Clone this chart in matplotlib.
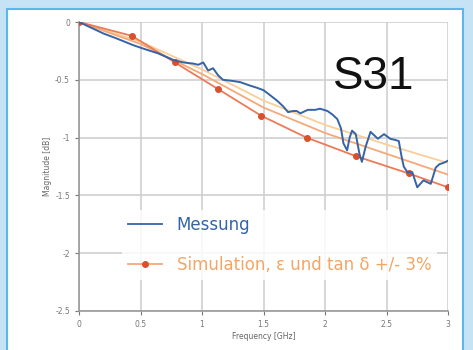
import matplotlib
matplotlib.use("Agg")
import matplotlib.pyplot as plt
from matplotlib.patches import Rectangle
from matplotlib.lines import Line2D

# Measurement (Messung)
meas_f = [0, 0.1, 0.2, 0.3, 0.44, 0.55, 0.64, 0.77, 0.85, 0.93, 0.97, 1.01, 1.05, 1.09, 1.13, 1.17,
          1.25, 1.31, 1.39, 1.45, 1.5, 1.55, 1.61, 1.66, 1.7, 1.74, 1.77, 1.8, 1.86, 1.92, 1.96,
          2.02, 2.06, 2.1, 2.13, 2.15, 2.18, 2.2, 2.22, 2.25, 2.28, 2.3, 2.33, 2.37, 2.4, 2.43,
          2.48, 2.53, 2.57, 2.6, 2.62, 2.64, 2.67, 2.71, 2.75, 2.8, 2.86, 2.9, 2.93, 2.96, 3.0]
meas_db = [0, -0.05, -0.1, -0.14, -0.2, -0.24, -0.27, -0.33, -0.35, -0.36, -0.37, -0.35, -0.42, -0.40, -0.46, -0.5,
           -0.51, -0.52, -0.55, -0.57, -0.59, -0.63, -0.68, -0.73, -0.78, -0.77, -0.77, -0.79, -0.76, -0.76, -0.75,
           -0.77, -0.8, -0.84, -0.92, -1.05, -1.11, -1.0, -0.94, -0.97, -1.14, -1.21, -1.08, -0.95, -0.98, -1.01,
           -0.97, -1.01, -1.02, -1.03, -1.15, -1.25, -1.3, -1.3, -1.43, -1.37, -1.4, -1.26, -1.23, -1.22, -1.2]

# Simulation (nominal with markers) and +/- 3% variants
sim_f = [0, 0.43, 0.78, 1.13, 1.48, 1.85, 2.25, 2.68, 3.0]
sim_nom = [0, -0.12, -0.35, -0.58, -0.81, -1.0, -1.16, -1.31, -1.43]
sim_var_f = [0, 0.5, 1.0, 1.5, 2.0, 2.5, 3.0]
sim_mid = [0, -0.19, -0.45, -0.74, -0.96, -1.14, -1.32]
sim_hi = [0, -0.17, -0.41, -0.68, -0.89, -1.06, -1.22]

x_ticks = [0, 0.5, 1, 1.5, 2, 2.5, 3]
x_labels = ["0", "0.5", "1", "1.5", "2", "2.5", "3"]
y_ticks = [0, -0.5, -1, -1.5, -2, -2.5]
y_labels = ["0", "-0.5", "-1", "-1.5", "-2", "-2.5"]

fig = plt.figure(figsize=(4.73, 3.5), dpi=100, facecolor="#c6e3f6")
panel = Rectangle((7/473, -0.05), (463-7)/473, 1.05 - 9/350, transform=fig.transFigure,
                  facecolor="white", edgecolor="#5bb6ea", linewidth=1.5, zorder=-10)
fig.patches.append(panel)

ax = fig.add_axes([79/473, 1 - 311/350, (448-79)/473, (311-22)/350])
ax.set_zorder(1)
ax.set_facecolor("white")
ax.plot(sim_var_f, sim_hi, color="#f9cf98", lw=1.3, zorder=2)
ax.plot(sim_var_f, sim_mid, color="#f5a878", lw=1.3, zorder=2)
ax.plot(sim_f, sim_nom, color="#ec7a58", lw=1.3, marker="o", ms=4,
        mfc="#d9502c", mec="#d9502c", zorder=3)
ax.plot(meas_f, meas_db, color="#3563a8", lw=1.4, zorder=4)

ax.set_xlim(0, 3)
ax.set_ylim(-2.5, 0)
ax.set_xticks(x_ticks)
ax.set_xticklabels(x_labels)
ax.set_yticks(y_ticks)
ax.set_yticklabels(y_labels)
ax.tick_params(labelsize=5.5, colors="#777777", length=3, width=0.8)
ax.grid(True, color="#cfcfcf", lw=1.2)
for s in ["top", "right"]:
    ax.spines[s].set_visible(False)
for s in ["left", "bottom"]:
    ax.spines[s].set_color("#999999")
    ax.spines[s].set_linewidth(1.2)
ax.set_xlabel("Frequency [GHz]", fontsize=5.5, color="#666666", labelpad=2)
ax.set_ylabel("Magnitude [dB]", fontsize=5.5, color="#666666", labelpad=2)

ax.text(0.80, 0.81, "S31", transform=ax.transAxes, fontsize=33, family="Liberation Sans",
        color="#111111", ha="center", va="center", zorder=5)

h_meas = Line2D([], [], color="#3563a8", lw=1.3)
h_sim = Line2D([], [], color="#f5a878", lw=1.3, marker="o", ms=4, mfc="#d9502c", mec="#d9502c")
leg = ax.legend([h_meas, h_sim], ["Messung", "Simulation, \u03b5 und tan \u03b4 +/- 3%"],
                loc="lower left", bbox_to_anchor=(0.095, 0.08), frameon=True,
                prop={"family": "DejaVu Sans", "size": 12}, handlelength=2.0,
                labelspacing=1.3, borderpad=0.35, handletextpad=0.9)
leg.get_frame().set_facecolor("white")
leg.get_frame().set_edgecolor("none")
leg.get_frame().set_alpha(0.85)
leg.get_texts()[0].set_color("#3563a8")
leg.get_texts()[1].set_color("#f4a564")

fig.savefig("out.png", dpi=100, facecolor=fig.get_facecolor())
